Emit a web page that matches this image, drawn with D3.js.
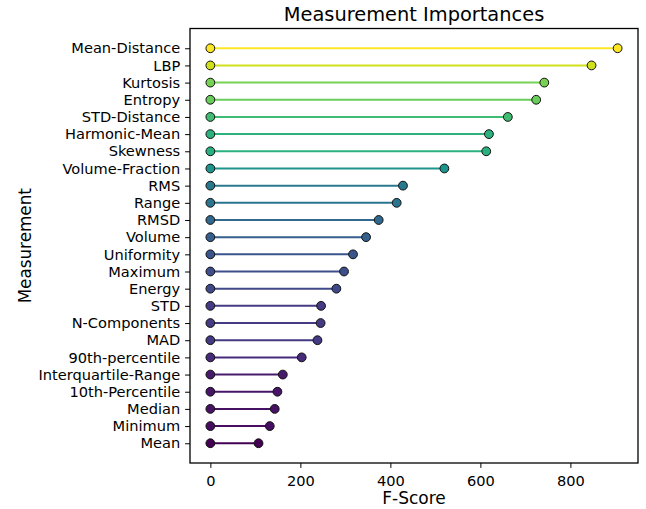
<!DOCTYPE html>
<html>
<head>
<meta charset="utf-8">
<script src="https://cdn.jsdelivr.net/npm/d3@7"></script>
<style>
  html, body { margin: 0; padding: 0; background: #fff; }
  svg { display: block; font-family: "DejaVu Sans", sans-serif; }
</style>
</head>
<body>
<svg id="chart" width="646" height="509"></svg>
<script>
// Measurement names, listed from top to bottom
const measurements = [
  "Mean-Distance", "LBP", "Kurtosis", "Entropy", "STD-Distance", "Harmonic-Mean",
  "Skewness", "Volume-Fraction", "RMS", "Range", "RMSD", "Volume", "Uniformity",
  "Maximum", "Energy", "STD", "N-Components", "MAD", "90th-percentile",
  "Interquartile-Range", "10th-Percentile", "Median", "Minimum", "Mean"
];
// F-Score of each measurement, same order
const fScores = [
  905, 847, 742, 724, 661, 619,
  613, 520, 428, 414, 374, 346, 317,
  297, 280, 246, 245, 238, 203,
  161, 149, 143, 132, 107
];
const xTicks = [0, 200, 400, 600, 800];

const svg = d3.select("#chart");
const plot = { left: 190, right: 638, top: 28.5, bottom: 463 };

const maxV = d3.max(fScores);
const x = d3.scaleLinear()
  .domain([-0.05 * maxV, 1.05 * maxV])
  .range([plot.left, plot.right]);

const y = d3.scalePoint()
  .domain(measurements)
  .range([plot.top, plot.bottom])
  .padding(1.15);

const color = d3.scaleSequential(d3.interpolateViridis)
  .domain([d3.min(fScores), maxV]);

const rows = measurements.map((m, i) => ({ name: m, value: fScores[i] }));

// stems
svg.append("g").selectAll("line")
  .data(rows)
  .join("line")
  .attr("x1", x(0))
  .attr("x2", d => x(d.value))
  .attr("y1", d => y(d.name))
  .attr("y2", d => y(d.name))
  .attr("stroke", d => color(d.value))
  .attr("stroke-width", 2);

// end points at zero and at the score
const dots = svg.append("g");
[d => x(0), d => x(d.value)].forEach(cx => {
  dots.append("g").selectAll("circle")
    .data(rows)
    .join("circle")
    .attr("cx", cx)
    .attr("cy", d => y(d.name))
    .attr("r", 4.4)
    .attr("fill", d => color(d.value))
    .attr("stroke", "#111")
    .attr("stroke-width", 1);
});

// axes
const xAxis = svg.append("g")
  .attr("transform", `translate(0,${plot.bottom})`)
  .call(d3.axisBottom(x).tickValues(xTicks).tickFormat(d3.format("d")).tickSize(4.9).tickPadding(4.9));
const yAxis = svg.append("g")
  .attr("transform", `translate(${plot.left},0)`)
  .call(d3.axisLeft(y).tickSize(4.9).tickPadding(4.9));

[xAxis, yAxis].forEach(a => {
  a.select(".domain").remove();
  a.selectAll(".tick line").attr("stroke", "#000").attr("stroke-width", 1);
  a.selectAll(".tick text")
    .attr("fill", "#000")
    .style("font-family", "'DejaVu Sans', sans-serif")
    .style("font-size", "14.6px");
});
xAxis.selectAll(".tick text").attr("dy", "0.9em");

// frame
svg.append("rect")
  .attr("x", plot.left)
  .attr("y", plot.top)
  .attr("width", plot.right - plot.left)
  .attr("height", plot.bottom - plot.top)
  .attr("fill", "none")
  .attr("stroke", "#000")
  .attr("stroke-width", 1.3);

// titles
svg.append("text")
  .attr("x", (plot.left + plot.right) / 2)
  .attr("y", 21)
  .attr("text-anchor", "middle")
  .style("font-size", "19.4px")
  .text("Measurement Importances");

svg.append("text")
  .attr("x", (plot.left + plot.right) / 2)
  .attr("y", 504)
  .attr("text-anchor", "middle")
  .style("font-size", "17px")
  .text("F-Score");

svg.append("text")
  .attr("transform", `translate(31,${(plot.top + plot.bottom) / 2}) rotate(-90)`)
  .attr("text-anchor", "middle")
  .style("font-size", "16.8px")
  .text("Measurement");
</script>
</body>
</html>
